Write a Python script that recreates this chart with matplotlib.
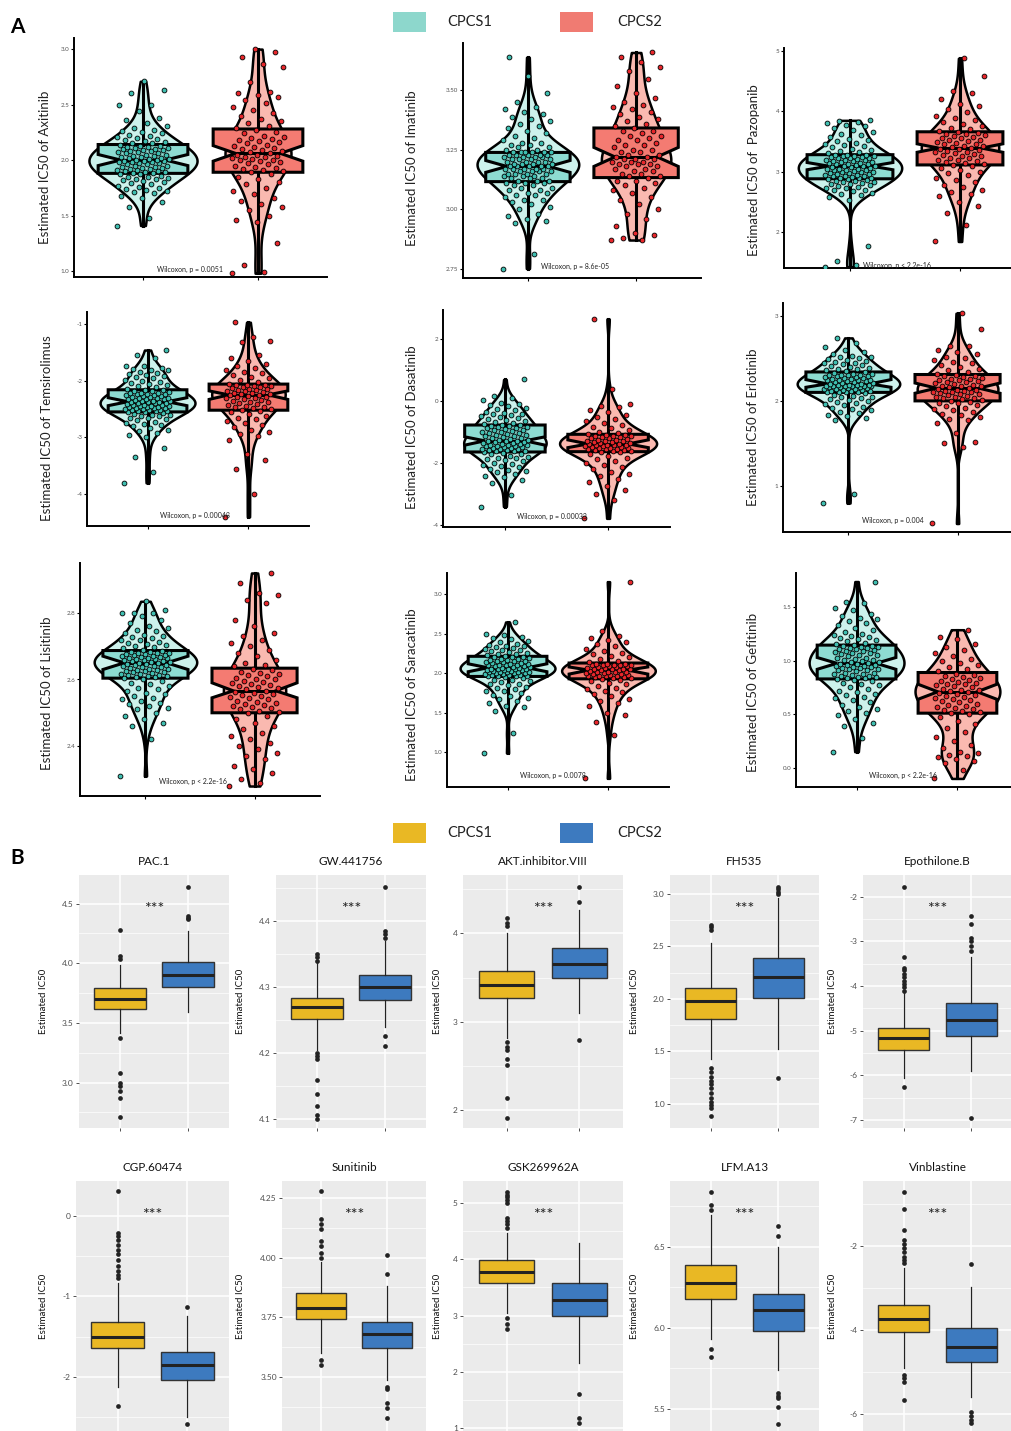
import numpy as np
import matplotlib
matplotlib.use("Agg")
import matplotlib.pyplot as plt
from matplotlib import cbook, mlab
from matplotlib.patches import Rectangle
from matplotlib.ticker import MultipleLocator, FormatStrFormatter

plt.rcParams["font.family"] = ["Lato", "DejaVu Sans"]
plt.rcParams["axes.unicode_minus"] = False

W, H = 1012, 1431
groups = ["CPCS1", "CPCS2"]

# ---------------- panel A: estimated IC50 values
a_drugs = ["Axitinib", "Imatinib", " Pazopanib", "Temsirolimus", "Dasatinib",
           "Erlotinib", "Lisitinib", "Saracatinib", "Gefitinib"]
a_pvals = ["p = 0.0051", "p = 8.6e-05", "p < 2.2e-16", "p = 0.00048",
           "p = 0.00033", "p = 0.004", "p < 2.2e-16", "p = 0.0078", "p < 2.2e-16"]

axitinib_c1 = [1.41, 1.48, 1.58, 1.62, 1.66,
               1.68, 1.70, 1.71, 1.72, 1.73, 1.74, 1.75, 1.76, 1.77, 1.78, 1.79, 1.80, 1.81, 1.82, 1.83, 1.83,
               1.84, 1.85, 1.85, 1.86, 1.87, 1.87,
               1.88, 1.88, 1.89, 1.89, 1.90, 1.90, 1.91, 1.91, 1.92, 1.92, 1.93, 1.93, 1.94, 1.94, 1.95, 1.95,
               1.96, 1.96, 1.97, 1.97, 1.98, 1.98, 1.98, 1.99, 1.99, 1.99, 2.00,
               2.00, 2.01, 2.01, 2.02, 2.02, 2.03, 2.03, 2.04, 2.04, 2.05, 2.05, 2.06, 2.06, 2.07, 2.07, 2.08,
               2.08, 2.09, 2.09, 2.10, 2.10, 2.11, 2.11, 2.12, 2.12, 2.13, 2.13,
               2.14, 2.15, 2.15, 2.16, 2.17, 2.18, 2.19, 2.20, 2.21, 2.22, 2.23, 2.24, 2.25, 2.26, 2.27, 2.29,
               2.31, 2.33, 2.36, 2.38,
               2.44, 2.50, 2.50, 2.60, 2.63, 2.71]
axitinib_c2 = [0.98, 0.99, 1.05, 1.25, 1.44, 1.46, 1.50, 1.55,
               1.58, 1.60, 1.63, 1.66, 1.69, 1.72, 1.75, 1.78, 1.80, 1.83, 1.85, 1.87,
               1.89, 1.90, 1.91, 1.92, 1.93, 1.94, 1.95, 1.96, 1.97, 1.98, 1.99, 2.00, 2.00, 2.01, 2.02, 2.03,
               2.03, 2.04, 2.05, 2.05,
               2.06, 2.07, 2.08, 2.09, 2.10, 2.11, 2.12, 2.13, 2.14, 2.15, 2.16, 2.17, 2.18, 2.19, 2.20, 2.21,
               2.22, 2.24, 2.25, 2.27,
               2.29, 2.31, 2.33, 2.35, 2.37, 2.40, 2.42, 2.45, 2.48, 2.51, 2.54, 2.57,
               2.59, 2.60, 2.61, 2.70, 2.84, 2.87, 2.93, 2.97, 3.00]
imatinib_c1 = [2.75, 2.81, 2.94, 2.95, 2.96, 2.97, 2.98,
               3.00, 3.01, 3.02, 3.03, 3.04, 3.04, 3.05, 3.06, 3.06, 3.07, 3.07, 3.08, 3.08, 3.09, 3.09, 3.10,
               3.10, 3.11, 3.11, 3.11,
               3.12, 3.12, 3.12, 3.13, 3.13, 3.13, 3.14, 3.14, 3.14, 3.15, 3.15, 3.15, 3.15, 3.16, 3.16, 3.16,
               3.16, 3.17, 3.17, 3.17, 3.17, 3.17, 3.18, 3.18, 3.18, 3.18, 3.18,
               3.19, 3.19, 3.19, 3.19, 3.20, 3.20, 3.20, 3.20, 3.21, 3.21, 3.21, 3.21, 3.22, 3.22, 3.22, 3.22,
               3.23, 3.23, 3.23, 3.23, 3.23, 3.24, 3.24, 3.24, 3.24, 3.24, 3.24,
               3.25, 3.25, 3.26, 3.26, 3.27, 3.27, 3.28, 3.28, 3.29, 3.30, 3.31, 3.32, 3.33, 3.34, 3.35, 3.36,
               3.37, 3.38, 3.39, 3.40,
               3.41, 3.42, 3.43, 3.45, 3.49, 3.56, 3.64]
imatinib_c2 = [2.87, 2.87, 2.88, 2.89, 2.90, 2.93, 2.96,
               2.98, 3.00, 3.02, 3.04, 3.05, 3.07, 3.08, 3.09, 3.10, 3.11, 3.12, 3.12, 3.13,
               3.14, 3.14, 3.15, 3.15, 3.16, 3.16, 3.17, 3.17, 3.18, 3.18, 3.19, 3.19, 3.19, 3.20, 3.20, 3.20,
               3.21, 3.21, 3.21, 3.22,
               3.22, 3.23, 3.23, 3.24, 3.24, 3.25, 3.25, 3.26, 3.27, 3.27, 3.28, 3.29, 3.29, 3.30, 3.31, 3.31,
               3.32, 3.33, 3.33, 3.34,
               3.35, 3.36, 3.37, 3.38, 3.39, 3.40, 3.41, 3.42, 3.43, 3.44, 3.45, 3.47,
               3.49, 3.52, 3.55, 3.58, 3.60, 3.62, 3.64, 3.66]
pazopanib_c1 = [1.42, 1.45, 1.52, 1.76, 2.53, 2.58,
                2.61, 2.63, 2.65, 2.67, 2.69, 2.70, 2.72, 2.73, 2.75, 2.76, 2.77, 2.79, 2.80, 2.81, 2.82, 2.83,
                2.84, 2.85, 2.86, 2.87,
                2.88, 2.89, 2.90, 2.90, 2.91, 2.92, 2.93, 2.93, 2.94, 2.95, 2.96, 2.96, 2.97, 2.98, 2.99, 2.99,
                3.00, 3.01, 3.02, 3.02, 3.03, 3.04, 3.05, 3.05, 3.06, 3.07, 3.08,
                3.09, 3.10, 3.10, 3.11, 3.12, 3.13, 3.13, 3.14, 3.15, 3.16, 3.16, 3.17, 3.18, 3.19, 3.19, 3.20,
                3.21, 3.22, 3.22, 3.23, 3.24, 3.24, 3.25, 3.26, 3.26, 3.27, 3.27,
                3.28, 3.30, 3.32, 3.34, 3.36, 3.38, 3.40, 3.42, 3.44, 3.46, 3.48, 3.50, 3.52, 3.54, 3.57, 3.60,
                3.63, 3.66, 3.69, 3.72,
                3.75, 3.78, 3.80, 3.82, 3.84, 3.85]
pazopanib_c2 = [1.84, 2.12, 2.32, 2.43, 2.50, 2.60, 2.62,
                2.66, 2.70, 2.74, 2.78, 2.82, 2.86, 2.90, 2.94, 2.97, 3.00, 3.03, 3.06, 3.09,
                3.11, 3.13, 3.14, 3.16, 3.17, 3.19, 3.20, 3.22, 3.23, 3.25, 3.26, 3.28, 3.29, 3.31, 3.32, 3.33,
                3.34, 3.35, 3.37, 3.38,
                3.39, 3.40, 3.42, 3.43, 3.45, 3.46, 3.48, 3.49, 3.50, 3.52, 3.53, 3.55, 3.56, 3.58, 3.59, 3.60,
                3.62, 3.63, 3.64, 3.65,
                3.67, 3.70, 3.73, 3.76, 3.79, 3.82, 3.85, 3.89, 3.93, 3.98, 4.03, 4.08,
                4.12, 4.20, 4.30, 4.33, 4.58, 4.88]
temsirolimus_c1 = [-3.80, -3.60, -3.35, -3.18, -3.00, -2.95,
                   -2.92, -2.89, -2.86, -2.83, -2.80, -2.78, -2.76, -2.74, -2.72, -2.70, -2.68, -2.66, -2.65,
                   -2.63, -2.62, -2.61, -2.60, -2.58, -2.57, -2.56,
                   -2.55, -2.54, -2.54, -2.53, -2.52, -2.52, -2.51, -2.50, -2.50, -2.49, -2.48, -2.48, -2.47,
                   -2.46, -2.46, -2.45, -2.44, -2.44, -2.43, -2.42, -2.42, -2.41, -2.40, -2.40, -2.39, -2.38,
                   -2.38,
                   -2.37, -2.36, -2.36, -2.35, -2.34, -2.33, -2.33, -2.32, -2.31, -2.30, -2.30, -2.29, -2.28,
                   -2.27, -2.27, -2.26, -2.25, -2.24, -2.24, -2.23, -2.22, -2.21, -2.21, -2.20, -2.19, -2.18,
                   -2.17,
                   -2.16, -2.14, -2.12, -2.10, -2.08, -2.06, -2.04, -2.02, -2.00, -1.98, -1.96, -1.94, -1.92,
                   -1.90, -1.88, -1.86, -1.84, -1.82, -1.81, -1.80,
                   -1.77, -1.75, -1.75, -1.60, -1.55, -1.46]
temsirolimus_c2 = [-4.40, -4.00, -3.55, -3.40, -3.30, -3.05, -2.98,
                   -2.94, -2.90, -2.86, -2.82, -2.78, -2.74, -2.71, -2.68, -2.65, -2.62, -2.59, -2.56, -2.53,
                   -2.52, -2.50, -2.49, -2.47, -2.46, -2.44, -2.43, -2.41, -2.40, -2.38, -2.37, -2.35, -2.34,
                   -2.32, -2.31, -2.30, -2.29, -2.28, -2.27, -2.26,
                   -2.25, -2.24, -2.23, -2.22, -2.21, -2.20, -2.19, -2.18, -2.17, -2.16, -2.15, -2.14, -2.13,
                   -2.12, -2.11, -2.10, -2.09, -2.08, -2.08, -2.07,
                   -2.05, -2.02, -1.99, -1.96, -1.93, -1.90, -1.87, -1.84, -1.81, -1.78, -1.75, -1.70,
                   -1.65, -1.60, -1.55, -1.32, -1.30, -1.23, -0.97]
dasatinib_c1 = [-3.40, -3.03, -2.65, -2.55, -2.45, -2.40,
                -2.35, -2.30, -2.26, -2.22, -2.18, -2.14, -2.10, -2.06, -2.02, -1.98, -1.94, -1.91, -1.88,
                -1.85, -1.82, -1.79, -1.76, -1.72, -1.69, -1.66,
                -1.64, -1.62, -1.61, -1.60, -1.58, -1.57, -1.56, -1.54, -1.53, -1.52, -1.50, -1.49, -1.48,
                -1.46, -1.45, -1.44, -1.42, -1.41, -1.40, -1.38, -1.37, -1.36, -1.34, -1.33, -1.32, -1.30,
                -1.29,
                -1.28, -1.26, -1.24, -1.22, -1.20, -1.18, -1.16, -1.14, -1.12, -1.10, -1.08, -1.06, -1.04,
                -1.02, -1.00, -0.98, -0.96, -0.94, -0.92, -0.90, -0.88, -0.86, -0.84, -0.82, -0.80, -0.79,
                -0.78,
                -0.76, -0.73, -0.70, -0.67, -0.64, -0.61, -0.58, -0.55, -0.52, -0.49, -0.46, -0.43, -0.40,
                -0.37, -0.34, -0.30, -0.26, -0.22, -0.17, -0.12,
                -0.08, -0.05, 0.05, 0.10, 0.15, 0.70]
dasatinib_c2 = [-3.78, -3.20, -3.00, -2.88, -2.75, -2.62, -2.50,
                -2.42, -2.34, -2.27, -2.20, -2.13, -2.06, -2.00, -1.94, -1.88, -1.82, -1.76, -1.70, -1.65,
                -1.63, -1.62, -1.60, -1.59, -1.58, -1.56, -1.55, -1.54, -1.52, -1.51, -1.50, -1.48, -1.47,
                -1.46, -1.44, -1.43, -1.42, -1.41, -1.40, -1.39,
                -1.38, -1.36, -1.35, -1.33, -1.32, -1.30, -1.28, -1.27, -1.25, -1.24, -1.22, -1.20, -1.19,
                -1.17, -1.16, -1.14, -1.12, -1.11, -1.09, -1.08,
                -1.06, -1.02, -0.98, -0.93, -0.88, -0.83, -0.77, -0.71, -0.65, -0.58, -0.51, -0.45,
                -0.35, -0.28, -0.20, -0.15, -0.10, 0.38, 2.65]
erlotinib_c1 = [0.80, 0.91, 1.78, 1.80, 1.82,
                1.84, 1.86, 1.87, 1.89, 1.90, 1.92, 1.93, 1.95, 1.96, 1.97, 1.99, 2.00, 2.01, 2.02, 2.03, 2.04,
                2.05, 2.06, 2.07, 2.09,
                2.10, 2.10, 2.11, 2.11, 2.12, 2.12, 2.12, 2.13, 2.13, 2.14, 2.14, 2.14, 2.15, 2.15, 2.16, 2.16,
                2.16, 2.17, 2.17, 2.17, 2.18, 2.18, 2.18, 2.19, 2.19, 2.19, 2.19,
                2.20, 2.20, 2.21, 2.21, 2.22, 2.22, 2.23, 2.23, 2.24, 2.24, 2.25, 2.25, 2.26, 2.26, 2.27, 2.27,
                2.28, 2.28, 2.29, 2.29, 2.30, 2.30, 2.31, 2.31, 2.32, 2.32, 2.33,
                2.34, 2.35, 2.36, 2.37, 2.38, 2.39, 2.40, 2.41, 2.42, 2.43, 2.44, 2.45, 2.46, 2.47, 2.48, 2.49,
                2.50, 2.51, 2.52, 2.53,
                2.55, 2.57, 2.60, 2.63, 2.68, 2.74]
erlotinib_c2 = [0.56, 1.46, 1.50, 1.52, 1.62, 1.74,
                1.77, 1.79, 1.81, 1.83, 1.85, 1.87, 1.89, 1.90, 1.92, 1.94, 1.95, 1.97, 1.98, 1.99,
                2.00, 2.01, 2.02, 2.03, 2.03, 2.04, 2.05, 2.06, 2.07, 2.08, 2.08, 2.09, 2.10, 2.11, 2.11, 2.12,
                2.12, 2.13, 2.13, 2.14,
                2.15, 2.16, 2.17, 2.17, 2.18, 2.19, 2.20, 2.21, 2.22, 2.22, 2.23, 2.24, 2.25, 2.26, 2.26, 2.27,
                2.28, 2.29, 2.29, 2.30,
                2.32, 2.34, 2.36, 2.38, 2.40, 2.42, 2.44, 2.46, 2.48, 2.50, 2.52, 2.55,
                2.57, 2.60, 2.64, 2.65, 2.85, 3.03]
lisitinib_c1 = [2.31, 2.42, 2.46, 2.47, 2.48, 2.49,
                2.50, 2.51, 2.515, 2.52, 2.525, 2.53, 2.535, 2.54, 2.545, 2.55, 2.555, 2.56, 2.565, 2.57,
                2.575, 2.58, 2.585, 2.59, 2.595, 2.60,
                2.605, 2.607, 2.608, 2.61, 2.612, 2.613, 2.615, 2.617, 2.618, 2.62, 2.622, 2.623, 2.625, 2.627,
                2.628, 2.63, 2.632, 2.633, 2.635, 2.637, 2.638, 2.64, 2.642, 2.643, 2.645, 2.647, 2.648,
                2.65, 2.651, 2.653, 2.654, 2.655, 2.657, 2.658, 2.66, 2.661, 2.662, 2.664, 2.665, 2.666, 2.668,
                2.669, 2.67, 2.672, 2.673, 2.675, 2.676, 2.677, 2.679, 2.68, 2.681, 2.683, 2.684, 2.686,
                2.69, 2.694, 2.698, 2.70, 2.704, 2.708, 2.71, 2.714, 2.718, 2.72, 2.724, 2.728, 2.73, 2.735,
                2.74, 2.745, 2.75, 2.755, 2.76, 2.77,
                2.78, 2.79, 2.80, 2.80, 2.80, 2.81, 2.835]
lisitinib_c2 = [2.28, 2.29, 2.30, 2.32, 2.33, 2.34, 2.36,
                2.37, 2.38, 2.39, 2.40, 2.41, 2.42, 2.43, 2.44, 2.45, 2.46, 2.47, 2.48, 2.49,
                2.50, 2.503, 2.506, 2.51, 2.513, 2.516, 2.52, 2.523, 2.526, 2.53, 2.533, 2.536, 2.54, 2.543,
                2.546, 2.55, 2.553, 2.556, 2.56, 2.563,
                2.566, 2.57, 2.573, 2.576, 2.58, 2.583, 2.586, 2.59, 2.593, 2.596, 2.60, 2.603, 2.606, 2.61,
                2.613, 2.616, 2.62, 2.624, 2.628, 2.632,
                2.64, 2.645, 2.65, 2.66, 2.67, 2.68, 2.69, 2.70, 2.71, 2.72, 2.73, 2.74,
                2.76, 2.78, 2.83, 2.84, 2.855, 2.86, 2.89, 2.92]
saracatinib_c1 = [0.99, 1.24, 1.52, 1.57, 1.58, 1.62,
                  1.65, 1.67, 1.69, 1.71, 1.73, 1.75, 1.77, 1.78, 1.80, 1.82, 1.83, 1.85, 1.86, 1.87, 1.89,
                  1.90, 1.91, 1.92, 1.94, 1.95,
                  1.96, 1.96, 1.97, 1.97, 1.98, 1.98, 1.98, 1.99, 1.99, 2.00, 2.00, 2.00, 2.01, 2.01, 2.02,
                  2.02, 2.02, 2.03, 2.03, 2.04, 2.04, 2.04, 2.05, 2.05, 2.06, 2.06, 2.06,
                  2.07, 2.07, 2.08, 2.08, 2.09, 2.09, 2.10, 2.10, 2.11, 2.11, 2.12, 2.12, 2.13, 2.13, 2.14,
                  2.14, 2.15, 2.15, 2.16, 2.17, 2.17, 2.18, 2.18, 2.19, 2.20, 2.20, 2.21,
                  2.22, 2.23, 2.24, 2.25, 2.26, 2.27, 2.28, 2.29, 2.30, 2.31, 2.32, 2.33, 2.34, 2.35, 2.36,
                  2.37, 2.39, 2.41, 2.43, 2.45,
                  2.46, 2.48, 2.50, 2.65]
saracatinib_c2 = [0.67, 1.22, 1.38, 1.47, 1.50, 1.58,
                  1.62, 1.65, 1.68, 1.71, 1.74, 1.76, 1.78, 1.80, 1.82, 1.84, 1.86, 1.88, 1.90, 1.92,
                  1.93, 1.94, 1.94, 1.95, 1.95, 1.96, 1.96, 1.97, 1.97, 1.98, 1.98, 1.99, 1.99, 2.00, 2.00,
                  2.01, 2.01, 2.02, 2.02, 2.03,
                  2.04, 2.04, 2.05, 2.05, 2.06, 2.06, 2.07, 2.07, 2.08, 2.08, 2.09, 2.09, 2.10, 2.10, 2.11,
                  2.11, 2.11, 2.12, 2.12, 2.12,
                  2.14, 2.16, 2.18, 2.20, 2.22, 2.24, 2.26, 2.28, 2.31, 2.34, 2.37, 2.40,
                  2.42, 2.45, 2.47, 2.54, 3.16]
gefitinib_c1 = [0.15, 0.28, 0.39, 0.42, 0.46, 0.49,
                0.51, 0.53, 0.55, 0.57, 0.59, 0.61, 0.63, 0.65, 0.66, 0.68, 0.69, 0.71, 0.72, 0.74, 0.75,
                0.77, 0.78, 0.79, 0.81, 0.82,
                0.83, 0.84, 0.84, 0.85, 0.85, 0.86, 0.86, 0.87, 0.88, 0.88, 0.89, 0.89, 0.90, 0.91, 0.91,
                0.92, 0.92, 0.93, 0.93, 0.94, 0.94, 0.95, 0.95, 0.96, 0.96, 0.97, 0.97,
                0.98, 0.99, 0.99, 1.00, 1.01, 1.01, 1.02, 1.03, 1.03, 1.04, 1.05, 1.05, 1.06, 1.07, 1.07,
                1.08, 1.09, 1.09, 1.10, 1.11, 1.11, 1.12, 1.12, 1.13, 1.13, 1.14, 1.14,
                1.15, 1.16, 1.17, 1.18, 1.19, 1.20, 1.21, 1.22, 1.23, 1.24, 1.25, 1.27, 1.29, 1.31, 1.33,
                1.35, 1.37, 1.39, 1.40, 1.42,
                1.44, 1.47, 1.49, 1.54, 1.55, 1.74]
gefitinib_c2 = [-0.10, -0.02, 0.04, 0.06, 0.08, 0.10, 0.11, 0.12, 0.14, 0.15,
                0.18, 0.21, 0.25, 0.29, 0.33, 0.37, 0.41, 0.44, 0.47, 0.50,
                0.51, 0.52, 0.53, 0.54, 0.55, 0.56, 0.57, 0.58, 0.59, 0.60, 0.61, 0.62, 0.63, 0.64, 0.65,
                0.66, 0.67, 0.68, 0.69, 0.70,
                0.71, 0.72, 0.73, 0.73, 0.74, 0.75, 0.76, 0.77, 0.78, 0.78, 0.79, 0.80, 0.81, 0.82, 0.83,
                0.84, 0.85, 0.86, 0.87, 0.88,
                0.90, 0.92, 0.94, 0.96, 0.98, 1.00, 1.02, 1.04, 1.07, 1.10,
                1.13, 1.16, 1.20, 1.22, 1.29]

a_points = [(axitinib_c1, axitinib_c2), (imatinib_c1, imatinib_c2), (pazopanib_c1, pazopanib_c2),
            (temsirolimus_c1, temsirolimus_c2), (dasatinib_c1, dasatinib_c2), (erlotinib_c1, erlotinib_c2),
            (lisitinib_c1, lisitinib_c2), (saracatinib_c1, saracatinib_c2), (gefitinib_c1, gefitinib_c2)]

# notched boxes: q1, median, q3, notch low, notch high
a_box_c1 = [(1.88, 2.00, 2.14, 1.95, 2.05), (3.116, 3.18, 3.239, 3.155, 3.205), (2.88, 3.09, 3.28, 3.03, 3.15),
            (-2.55, -2.37, -2.16, -2.44, -2.30), (-1.64, -1.28, -0.77, -1.42, -1.15), (2.10, 2.20, 2.34, 2.16, 2.25),
            (2.604, 2.65, 2.687, 2.63, 2.67), (1.96, 2.07, 2.215, 2.02, 2.12), (0.83, 0.976, 1.146, 0.92, 1.03)]
a_box_c2 = [(1.89, 2.06, 2.28, 1.99, 2.13), (3.133, 3.22, 3.342, 3.18, 3.26), (3.11, 3.39, 3.66, 3.32, 3.46),
            (-2.52, -2.25, -2.06, -2.33, -2.18), (-1.63, -1.38, -1.07, -1.50, -1.25), (2.00, 2.15, 2.31, 2.09, 2.21),
            (2.50, 2.566, 2.634, 2.545, 2.59), (1.93, 2.04, 2.13, 1.99, 2.08), (0.51, 0.71, 0.89, 0.64, 0.78)]

# ---------------- panel B: boxplot summaries (q1, median, q3, whisker low, whisker high) + outliers
b_drugs = ["PAC.1", "GW.441756", "AKT.inhibitor.VIII", "FH535", "Epothilone.B",
           "CGP.60474", "Sunitinib", "GSK269962A", "LFM.A13", "Vinblastine"]
b_box_c1 = [(3.62, 3.70, 3.79, 3.42, 3.99), (4.251, 4.269, 4.284, 4.205, 4.338), (3.27, 3.42, 3.58, 2.82, 4.00),
            (1.81, 1.98, 2.10, 1.43, 2.53), (-5.43, -5.16, -4.94, -6.06, -4.15), (-1.64, -1.50, -1.32, -2.13, -0.83),
            (3.745, 3.79, 3.85, 3.60, 3.98), (3.58, 3.77, 3.98, 3.05, 4.47), (6.18, 6.28, 6.39, 5.93, 6.70),
            (-4.05, -3.74, -3.40, -4.90, -2.52)]
b_box_c2 = [(3.80, 3.90, 4.01, 3.59, 4.27), (4.28, 4.30, 4.318, 4.24, 4.37), (3.49, 3.65, 3.83, 3.10, 4.26),
            (2.01, 2.21, 2.39, 1.52, 2.96), (-5.12, -4.76, -4.38, -5.90, -3.35), (-2.04, -1.85, -1.69, -2.50, -1.25),
            (3.62, 3.68, 3.73, 3.49, 3.88), (3.00, 3.28, 3.58, 2.16, 4.28), (5.98, 6.11, 6.21, 5.74, 6.50),
            (-4.76, -4.40, -3.95, -5.60, -2.98)]
b_out_c1 = [[4.04, 4.06, 4.28, 3.37, 3.08, 3.00, 2.97, 2.93, 2.87, 2.71],
            [4.34, 4.345, 4.35, 4.20, 4.195, 4.19, 4.159, 4.138, 4.12, 4.105, 4.10],
            [4.08, 4.12, 4.17, 2.77, 2.72, 2.68, 2.58, 2.51, 2.14, 1.91],
            [2.66, 2.68, 2.70, 1.34, 1.30, 1.26, 1.22, 1.19, 1.15, 1.10, 1.06, 1.02, 0.99, 0.96, 0.88],
            [-3.59, -3.65, -3.72, -3.80, -3.88, -3.95, -4.03, -4.10, -3.35, -1.78, -6.27],
            [-0.21, -0.25, -0.30, -0.36, -0.42, -0.48, -0.55, -0.62, -0.68, -0.74, -0.77, 0.30, -2.36],
            [4.00, 4.02, 4.05, 4.07, 4.12, 4.14, 4.16, 4.28, 3.57, 3.55],
            [4.55, 4.62, 4.68, 4.73, 5.00, 5.05, 5.10, 5.15, 5.20, 2.95, 2.85, 2.77],
            [6.73, 6.76, 6.84, 5.87, 5.82],
            [-1.86, -1.95, -2.05, -2.15, -2.25, -2.33, -2.40, -1.62, -1.12, -0.71, -5.07, -5.15, -5.24, -5.67]]
b_out_c2 = [[4.37, 4.38, 4.40, 4.64],
            [4.375, 4.38, 4.385, 4.226, 4.211, 4.452],
            [4.35, 4.52, 2.80],
            [3.00, 3.02, 3.05, 3.07, 1.25],
            [-2.92, -3.00, -3.10, -3.22, -2.60, -2.44, -6.95],
            [-1.13, -2.58],
            [3.93, 4.01, 3.46, 3.45, 3.39, 3.37, 3.33],
            [1.61, 1.18, 1.10],
            [6.57, 6.63, 5.60, 5.58, 5.57, 5.51, 5.41],
            [-2.43, -5.95, -6.05, -6.15, -6.21]]

# ---------------- layout (pixels) and styles
# left, right, top, bottom, ymin, ymax, tick step, tick format, label x, label y, p-value y
a_layout = [(74, 327, 38, 277, 0.946, 3.10, 0.5, "%.1f", 45, 167, 1.01),
            (463, 701, 43, 278, 2.71, 3.70, 0.25, "%.2f", 412, 168, 2.76),
            (784, 1026, 48, 268, 1.40, 5.05, 1, "%d", 754, 170, 1.45),
            (87, 309, 312, 526, -4.56, -0.79, 1, "%d", 47, 428, -4.37),
            (443, 670, 310, 527, -4.06, 2.94, 2, "%d", 412, 427, -3.71),
            (783, 1023, 303, 532, 0.46, 3.15, 1, "%d", 753, 427, 0.60),
            (80, 320, 563, 796, 2.25, 2.95, 0.2, "%.1f", 47, 693, 2.295),
            (447, 669, 573, 787, 0.56, 3.27, 0.5, "%.1f", 412, 695, 0.71),
            (796, 1018, 573, 787, -0.18, 1.82, 0.5, "%.1f", 753, 692, -0.07)]
b_layout = [(79, 229, 875, 1128, 2.62, 4.74, 0.5, "%.1f", 31),
            (276, 426, 875, 1128, 4.086, 4.47, 0.1, "%.1f", 31),
            (463, 623, 875, 1128, 1.80, 4.66, 1, "%d", 21),
            (670, 819, 875, 1128, 0.77, 3.18, 0.5, "%.1f", 31),
            (863, 1012, 875, 1128, -7.18, -1.51, 1, "%d", 26),
            (76, 229, 1181, 1431, -2.67, 0.43, 1, "%d", 28),
            (282, 426, 1181, 1431, 3.275, 4.32, 0.25, "%.2f", 37),
            (463, 623, 1181, 1431, 0.95, 5.39, 1, "%d", 21),
            (670, 819, 1181, 1431, 5.364, 6.907, 0.5, "%.1f", 31),
            (863, 1012, 1181, 1431, -6.40, -0.45, 2, "%d", 26)]

a_violin_cols = ["#cdf2ec", "#fab9b0"]
a_box_cols = ["#8edcd2", "#f47b72"]
a_point_cols = ["#3fbfb1", "#e8262b"]
a_legend_cols = ["#8dd7cc", "#f07b72"]
b_cols = ["#e9b824", "#3d7abf"]


def px_axes(fig, left, right, top, bottom):
    return fig.add_axes([left / W, 1 - bottom / H, (right - left) / W, (bottom - top) / H])


def kde(x, coords):
    return mlab.GaussianKDE(x, 0.37).evaluate(coords)


fig = plt.figure(figsize=(W / 100, H / 100), dpi=100)

# ---- panel A
for i, drug in enumerate(a_drugs):
    left, right, top, bottom, y0, y1, step, fmt, lx, ly, py = a_layout[i]
    ax = px_axes(fig, left, right, top, bottom)
    data = [np.array(a_points[i][0]), np.array(a_points[i][1])]
    vstats = cbook.violin_stats(data, kde, points=250)
    peaks = [s["vals"].max() for s in vstats]
    widths = [0.94 * p / max(peaks) for p in peaks]
    parts = ax.violin(vstats, positions=[1, 2], widths=widths, showmeans=False,
                      showextrema=False, showmedians=False)
    for body, col in zip(parts["bodies"], a_violin_cols):
        body.set_facecolor(col)
        body.set_edgecolor("black")
        body.set_linewidth(1.8)
        body.set_alpha(1)
        body.set_zorder(1)
    bstats = []
    for d, b in zip(data, (a_box_c1[i], a_box_c2[i])):
        bstats.append(dict(q1=b[0], med=b[1], q3=b[2], cilo=b[3], cihi=b[4],
                           whislo=d.min(), whishi=d.max(), fliers=[]))
    bp = ax.bxp(bstats, positions=[1, 2], widths=0.78, shownotches=True, showfliers=False,
                patch_artist=True, showcaps=False, manage_ticks=False,
                boxprops=dict(linewidth=2.2, edgecolor="black"),
                whiskerprops=dict(linewidth=2.2, color="black"),
                medianprops=dict(linewidth=2.2, color="black"), zorder=2)
    for patch, col in zip(bp["boxes"], a_box_cols):
        patch.set_facecolor(col)
    for k, d in enumerate(data):
        n = len(d)
        off = ((np.arange(n) * 0.618034) % 1.0 - 0.5) * 0.46
        ax.scatter(k + 1 + off, d, s=12, color=a_point_cols[k], edgecolors="black",
                   linewidths=0.6, zorder=3)
    ax.set_xlim(0.4, 2.6)
    ax.set_ylim(y0, y1)
    ax.set_xticks([1, 2])
    ax.set_xticklabels([])
    ax.yaxis.set_major_locator(MultipleLocator(step))
    ax.yaxis.set_major_formatter(FormatStrFormatter(fmt))
    ax.tick_params(axis="both", length=2, width=0.8, labelsize=4.5, labelcolor="#555555", pad=1.5)
    for s in ("top", "right"):
        ax.spines[s].set_visible(False)
    for s in ("left", "bottom"):
        ax.spines[s].set_linewidth(1.4)
    ax.text(1.12, py, "Wilcoxon, " + a_pvals[i], fontsize=5, color="#222222", va="center",
            ha="left", zorder=4)
    fig.text(lx / W, 1 - ly / H, "Estimated IC50 of " + drug, rotation=90, ha="center",
             va="center", fontsize=9.5, color="#222222")

# ---- panel B
for i, drug in enumerate(b_drugs):
    left, right, top, bottom, y0, y1, step, fmt, ldx = b_layout[i]
    ax = px_axes(fig, left, right, top, bottom)
    ax.set_facecolor("#ebebeb")
    bstats = []
    for b, out in ((b_box_c1[i], b_out_c1[i]), (b_box_c2[i], b_out_c2[i])):
        bstats.append(dict(q1=b[0], med=b[1], q3=b[2], whislo=b[3], whishi=b[4], fliers=out))
    bp = ax.bxp(bstats, positions=[1, 2], widths=0.76, patch_artist=True, showcaps=False,
                manage_ticks=False,
                boxprops=dict(linewidth=1.0, edgecolor="#333333"),
                whiskerprops=dict(linewidth=0.9, color="#222222"),
                medianprops=dict(linewidth=2.2, color="#222222"),
                flierprops=dict(marker="o", markersize=3.4, markerfacecolor="#222222",
                                markeredgecolor="none"), zorder=2)
    for patch, col in zip(bp["boxes"], b_cols):
        patch.set_facecolor(col)
    ax.set_xlim(0.4, 2.6)
    ax.set_ylim(y0, y1)
    ax.set_xticks([1, 2])
    ax.set_xticklabels([])
    ax.yaxis.set_major_locator(MultipleLocator(step))
    ax.yaxis.set_minor_locator(MultipleLocator(step / 2))
    ax.yaxis.set_major_formatter(FormatStrFormatter(fmt))
    ax.grid(which="major", color="white", linewidth=1.1)
    ax.grid(which="minor", axis="y", color="white", linewidth=0.5)
    ax.set_axisbelow(True)
    ax.tick_params(axis="y", which="major", length=2.2, width=0.6, color="#333333",
                   labelsize=6, labelcolor="#4d4d4d", pad=1.5)
    ax.tick_params(axis="y", which="minor", length=0)
    ax.tick_params(axis="x", length=2.2, width=0.6, color="#333333")
    for s in ax.spines.values():
        s.set_visible(False)
    ax.text(1.5, 1 - 34 / (bottom - top), "***", transform=ax.get_xaxis_transform(),
            ha="center", va="center", fontsize=11.5, color="#222222")
    ax.set_title(drug, fontsize=8.5, color="#111111", pad=7)
    ax.set_ylabel("Estimated IC50", fontsize=7, color="#111111")
    ax.yaxis.set_label_coords(-ldx / (right - left), 0.5)

# ---- legends and panel letters
for ly, cols in ((22, a_legend_cols), (833, b_cols)):
    for (x0, tx), col, name in zip(((393, 447), (560, 617)), cols, groups):
        fig.add_artist(Rectangle((x0 / W, 1 - (ly + 10) / H), 33 / W, 20 / H,
                                 transform=fig.transFigure, facecolor=col, edgecolor="none"))
        fig.text(tx / W, 1 - ly / H, name, fontsize=10.5, va="center", ha="left", color="#222222")

fig.text(10 / W, 1 - 27 / H, "A", fontsize=15, fontweight="bold", va="center")
fig.text(10 / W, 1 - 858 / H, "B", fontsize=15, fontweight="bold", va="center")

fig.savefig("out.png", dpi=100)
